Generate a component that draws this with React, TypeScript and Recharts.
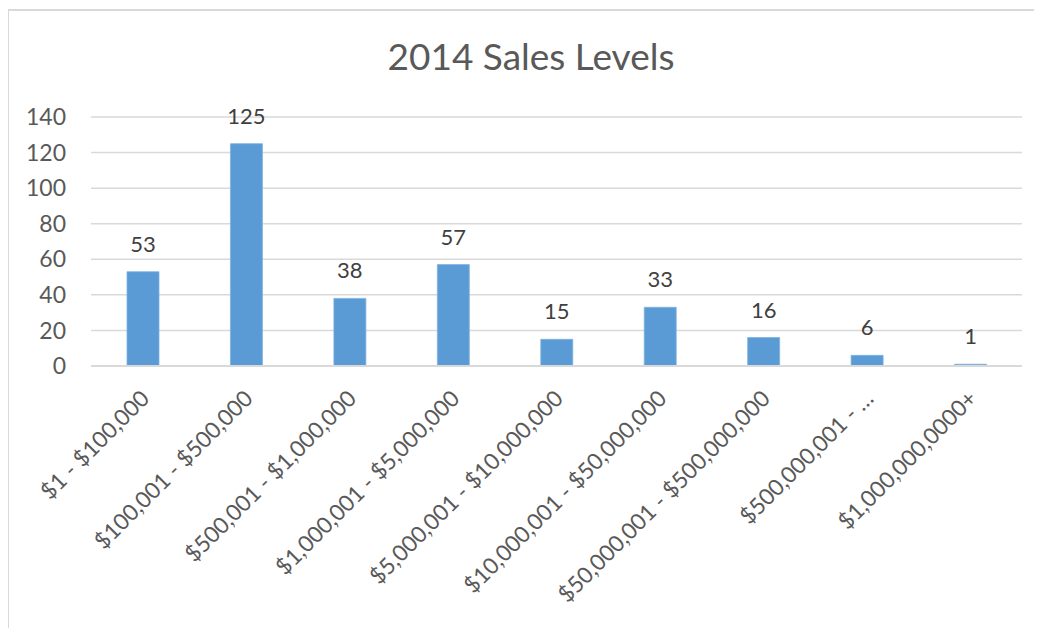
import React from 'react';
import { BarChart, Bar, XAxis, YAxis, CartesianGrid, LabelList } from 'recharts';

const categories = [
    '$1 - $100,000',
    '$100,001 - $500,000',
    '$500,001 - $1,000,000',
    '$1,000,001 - $5,000,000',
    '$5,000,001 - $10,000,000',
    '$10,000,001 - $50,000,000',
    '$50,000,001 - $500,000,000',
    '$500,000,001 - …',
    '$1,000,000,0000+',
];
const counts = [53, 125, 38, 57, 15, 33, 16, 6, 1];
const yTicks = [0, 20, 40, 60, 80, 100, 120, 140];

const data = categories.map((name, i) => ({ name, value: counts[i] }));

const FONT = 'Lato, "Open Sans", sans-serif';

const XTick = (props: any) => {
    const { x, y, payload } = props;
    return (
        <g transform={`translate(${x + 8},${y + 26})`}>
            <text
                x={0}
                y={0}
                textAnchor="end"
                transform="rotate(-45)"
                fill="#595959"
                fontSize={22.5}
                fontFamily={FONT}
            >
                {payload.value}
            </text>
        </g>
    );
};

export default function App() {
    return (
        <div style={{ position: 'relative', width: 1034, height: 620, fontFamily: FONT }}>
            <div
                style={{
                    position: 'absolute',
                    left: -1,
                    top: 1,
                    width: 1040,
                    height: 640,
                    borderTop: '2px solid #d9d9d9',
                    borderLeft: '2px solid #d9d9d9',
                }}
            />
            <div
                style={{
                    position: 'absolute',
                    left: 0,
                    width: 1046,
                    top: 25,
                    textAlign: 'center',
                    fontSize: 37,
                    color: '#595959',
                    fontFamily: FONT,
                }}
            >
                2014 Sales Levels
            </div>
            <BarChart
                width={1034}
                height={620}
                data={data}
                margin={{ top: 109, right: 20, bottom: 0, left: 0 }}
                style={{ position: 'absolute', left: 0, top: 0 }}
            >
                <CartesianGrid vertical={false} stroke="#d9d9d9" strokeWidth={1.5} />
                <XAxis
                    dataKey="name"
                    interval={0}
                    height={262}
                    tickLine={false}
                    axisLine={{ stroke: '#d9d9d9', strokeWidth: 2 }}
                    tick={<XTick />}
                />
                <YAxis
                    domain={[0, 140]}
                    ticks={yTicks}
                    width={83}
                    tickSize={0}
                    tickMargin={25}
                    axisLine={false}
                    tickLine={false}
                    tick={{ fill: '#595959', fontSize: 23, fontFamily: FONT }}
                />
                <Bar dataKey="value" fill="#5B9BD5" stroke="#7fb2e0" strokeWidth={0.8} barSize={32} isAnimationActive={false}>
                    <LabelList
                        dataKey="value"
                        position="top"
                        offset={20}
                        fill="#404040"
                        fontSize={22}
                        fontFamily={FONT}
                    />
                </Bar>
            </BarChart>
        </div>
    );
}
